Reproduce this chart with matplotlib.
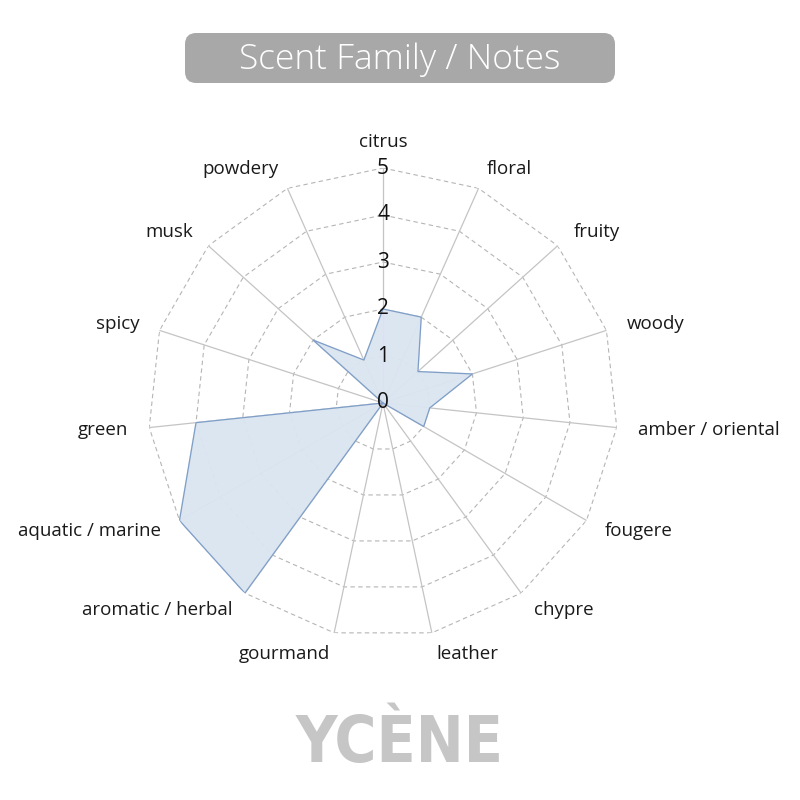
import numpy as np
import matplotlib
matplotlib.use("Agg")
import matplotlib.pyplot as plt
from matplotlib.patches import FancyBboxPatch

categories = ["citrus", "floral", "fruity", "woody", "amber / oriental", "fougere",
              "chypre", "leather", "gourmand", "aromatic / herbal", "aquatic / marine",
              "green", "spicy", "musk", "powdery"]
values = [2, 2, 1, 2, 1, 1, 0, 0, 0, 5, 5, 4, 0, 2, 1]
rticks = [0, 1, 2, 3, 4, 5]
title = "Scent Family / Notes"
brand = "YCÈNE"

N = len(categories)
theta = np.linspace(0, 2 * np.pi, N, endpoint=False)

fig = plt.figure(figsize=(8, 8), dpi=100)
fig.patch.set_facecolor("white")

ax = fig.add_axes([0.185, 0.2025, 0.5875, 0.5875], projection="polar")
ax.set_theta_offset(np.pi / 2)
ax.set_theta_direction(-1)
ax.set_ylim(0, 5)
ax.axis("off")

tt = np.append(theta, theta[0])
# grid polygons
for r in rticks[1:]:
    ax.plot(tt, [r] * len(tt), color="#b5b5b5", lw=0.8, ls=(0, (4, 3)), zorder=1)
# spokes
for t in theta:
    ax.plot([t, t], [0, 5], color="#c4c4c4", lw=0.9, zorder=1)

vv = np.append(values, values[0])
ax.fill(tt, vv, color="#dbe5f1", alpha=0.95, zorder=2)
ax.plot(tt, vv, color="#7f9ec6", lw=0.9, zorder=3)

for r in rticks:
    ax.text(0, r, str(r), ha="center", va="center", fontsize=15,
            family=["Open Sans", "DejaVu Sans"], color="#111111", zorder=5)

for t, lab in zip(theta, categories):
    ang = np.pi / 2 - t
    c = np.cos(ang)
    if abs(c) < 0.05:
        ha = "center"
    elif c > 0:
        ha = "left"
    else:
        ha = "right"
    r = 5.55 if ha == "center" else 5.45
    ax.text(t, r, lab, ha=ha, va="center", fontsize=13.5,
            family=["Open Sans", "DejaVu Sans"], color="#1a1a1a")

# title box
box = FancyBboxPatch((185 / 800, 1 - 83 / 800), 430 / 800, 50 / 800,
                     boxstyle="round,pad=0,rounding_size=0.014",
                     transform=fig.transFigure, facecolor="#a8a8a8",
                     edgecolor="none")
fig.patches.append(box)
fig.text(400 / 800, 1 - 60 / 800, title, ha="center", va="center", fontsize=25.5,
         color="white", fontweight="light", family=["Open Sans", "DejaVu Sans"])

fig.text(400 / 800, 1 - 744 / 800, brand, ha="center", va="center", fontsize=46,
         color="#c6c6c6", fontweight="bold", fontstretch="condensed",
         family=["DejaVu Sans"])

fig.savefig("out.png", dpi=100, facecolor="white")
